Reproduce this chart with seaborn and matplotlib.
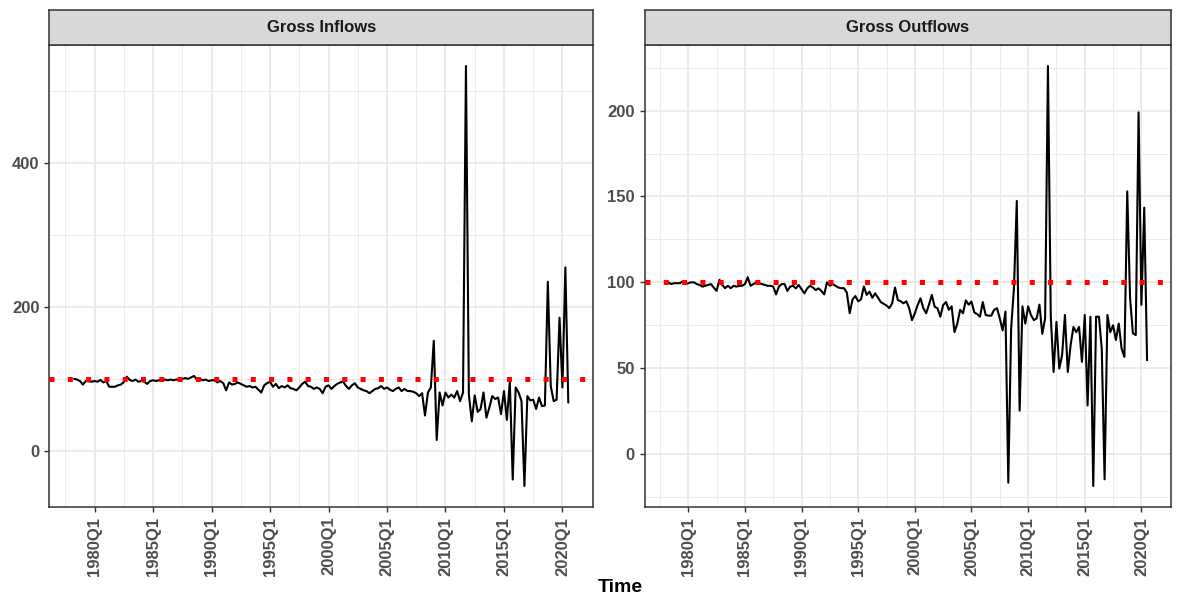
import numpy as np
import pandas as pd
import matplotlib
matplotlib.use("Agg")
import matplotlib.pyplot as plt
import seaborn as sns
from matplotlib.ticker import FixedLocator

# ---------------- data ----------------
quarters = pd.period_range("1978Q1", "2020Q2", freq="Q")

inflows = [
    100, 99, 97, 92,        # 1978
    97, 96.5, 96, 97,       # 1979
    96, 98.5, 95, 97,       # 1980
    89, 89, 89, 91,         # 1981
    92, 95.5, 103, 98.5,    # 1982
    97, 99, 96, 97,         # 1983
    96, 93, 97, 98,         # 1984
    97, 98, 98, 99,         # 1985
    98, 99, 98, 99,         # 1986
    99, 100, 101, 100,      # 1987
    102, 104, 99, 100,      # 1988
    98, 99, 97, 98,         # 1989
    98, 95, 97, 94,         # 1990
    84, 95, 92, 93,         # 1991
    95, 93, 91, 89,         # 1992
    90, 88, 89, 85,         # 1993
    81, 91, 94, 96,         # 1994
    89, 93, 87, 90,         # 1995
    88, 91, 87, 86,         # 1996
    84, 88, 93, 96,         # 1997
    90, 89, 86, 88,         # 1998
    86, 80, 89, 91,         # 1999
    86, 90, 93, 95,         # 2000
    96, 90, 86, 91,         # 2001
    94, 88, 86, 84,         # 2002
    83, 80, 83, 86,         # 2003
    87, 90, 86, 88,         # 2004
    85, 83, 86, 88,         # 2005
    83, 86, 83, 83,         # 2006
    82, 80, 76, 80,         # 2007
    49, 81, 88, 153,        # 2008
    15, 81, 63, 81,         # 2009
    74, 78, 74, 83,         # 2010
    69, 81, 535, 78,        # 2011
    41, 77, 54, 58,         # 2012
    81, 46, 60, 76,         # 2013
    72, 74, 51, 83,         # 2014
    43, 96, -40, 88,        # 2015
    81, 69, -49, 76,        # 2016
    70, 71, 58, 74,         # 2017
    62, 63, 235, 90,        # 2018
    69, 71, 185, 88,        # 2019
    255, 67,                # 2020
]

outflows = [
    100, 99, 99.5, 99.5,        # 1978
    99.5, 100.5, 99, 99.5,      # 1979
    100, 100, 99, 98.5,         # 1980
    97.5, 98, 98.5, 99,         # 1981
    97, 95, 101.5, 98.5,        # 1982
    96.6, 98, 96.6, 98,         # 1983
    97.5, 98, 98, 99,           # 1984
    103, 98, 99, 100,           # 1985
    99.5, 99, 98.5, 98,         # 1986
    98, 97.5, 93, 97.5,         # 1987
    99, 99, 95, 97.5,           # 1988
    98, 96.5, 98.5, 96,         # 1989
    93.6, 96.5, 98, 97,         # 1990
    95.5, 96.5, 95, 93,         # 1991
    100, 98, 99, 98,            # 1992
    97, 96.6, 96.6, 94,         # 1993
    82, 90, 92, 89,             # 1994
    90, 97.6, 92.7, 94.6,       # 1995
    91, 93.6, 91, 88.5,         # 1996
    87.5, 86.5, 85, 87.8,       # 1997
    97, 89.7, 89, 87.8,         # 1998
    89, 85, 78, 82,             # 1999
    86.8, 90.7, 85, 82,         # 2000
    87, 92.7, 85.8, 84.9,       # 2001
    80, 86.8, 88.5, 84,         # 2002
    86, 71, 76, 84,             # 2003
    82, 89.5, 87, 88.8,         # 2004
    82.5, 81.5, 80, 88.5,       # 2005
    81, 80.6, 80.6, 84,         # 2006
    85, 79, 72, 83,             # 2007
    -16.7, 73, 96.6, 147.4,     # 2008
    25.3, 86, 76, 86,           # 2009
    81, 78, 79, 87,             # 2010
    70, 79, 226, 80,            # 2011
    47.8, 77, 49.8, 57.6,       # 2012
    81, 47.8, 63.4, 74,         # 2013
    71, 74, 53.7, 81,           # 2014
    28.3, 80, -18.6, 80,        # 2015
    80, 61.5, -14.7, 81,        # 2016
    71, 75, 66.4, 76,           # 2017
    61.5, 56.6, 153, 90.8,      # 2018
    70.3, 69.3, 199, 86.9,      # 2019
    143.5, 54.6,                # 2020
]

panel_titles = ["Gross Inflows", "Gross Outflows"]
x_tick_values = [1980, 1985, 1990, 1995, 2000, 2005, 2010, 2015, 2020]
x_tick_labels = ["1980Q1", "1985Q1", "1990Q1", "1995Q1", "2000Q1",
                 "2005Q1", "2010Q1", "2015Q1", "2020Q1"]
x_minor_values = [1977.5, 1982.5, 1987.5, 1992.5, 1997.5, 2002.5,
                  2007.5, 2012.5, 2017.5, 2022.5]
inflow_yticks = [0, 200, 400]
inflow_yminor = [-100, 100, 300, 500]
outflow_yticks = [0, 50, 100, 150, 200]
outflow_yminor = [-25, 25, 75, 125, 175, 225]
reference_level = 100

# observations are stamped at the end of each quarter
t = (quarters.year + quarters.quarter / 4).to_numpy(dtype=float)
df = pd.DataFrame({
    "Time": np.concatenate([t, t]),
    "value": np.array(inflows + outflows, dtype=float),
    "panel": [panel_titles[0]] * len(t) + [panel_titles[1]] * len(t),
})

# ---------------- style ----------------
sns.set_theme(style="white")
plt.rcParams["font.family"] = ["Liberation Sans", "DejaVu Sans"]

W, H = 1179, 597
fig = plt.figure(figsize=(W / 100, H / 100), dpi=100)

panel_bottom = 1 - 507 / H
panel_top = 1 - 45 / H
strip_top = 1 - 10 / H
panels = [
    (49.4 / W, (593 - 49.4) / W, inflow_yticks, inflow_yminor),
    (644.5 / W, (1171 - 644.5) / W, outflow_yticks, outflow_yminor),
]

border_col = "#333333"
grid_col = "#EBEBEB"
text_col = "#4D4D4D"

for (left, width, yt, ymin_), title in zip(panels, panel_titles):
    ax = fig.add_axes([left, panel_bottom, width, panel_top - panel_bottom])
    sub = df[df["panel"] == title]
    sns.lineplot(data=sub, x="Time", y="value", ax=ax, color="black",
                 linewidth=1.5, zorder=3)
    ax.axhline(reference_level, color="red", linewidth=3.6,
               linestyle=(0, (1, 2.66)), dash_capstyle="butt", zorder=4)

    x0, x1 = sub["Time"].min(), sub["Time"].max()
    y0, y1 = sub["value"].min(), sub["value"].max()
    ax.set_xlim(x0 - 0.05 * (x1 - x0), x1 + 0.05 * (x1 - x0))
    ax.set_ylim(y0 - 0.05 * (y1 - y0), y1 + 0.05 * (y1 - y0))

    ax.xaxis.set_major_locator(FixedLocator(x_tick_values))
    ax.xaxis.set_minor_locator(FixedLocator(x_minor_values))
    ax.set_xticklabels(x_tick_labels)
    ax.yaxis.set_major_locator(FixedLocator(yt))
    ax.yaxis.set_minor_locator(FixedLocator(ymin_))

    ax.grid(which="major", color=grid_col, linewidth=1.4, zorder=0)
    ax.grid(which="minor", color=grid_col, linewidth=0.7, zorder=0)
    ax.set_axisbelow(True)
    ax.set_facecolor("white")
    for s in ax.spines.values():
        s.set_color(border_col)
        s.set_linewidth(1.1)
        s.set_visible(True)

    ax.tick_params(axis="both", which="major", length=3.5, width=1.0,
                   color=border_col, labelcolor=text_col, labelsize=12,
                   pad=3.5, bottom=True, left=True)
    ax.tick_params(axis="both", which="minor", length=0)
    for lab in ax.get_xticklabels():
        lab.set_rotation(90)
        lab.set_fontweight("bold")
    for lab in ax.get_yticklabels():
        lab.set_fontweight("bold")
    ax.set_xlabel("")
    ax.set_ylabel("")

    # facet strip
    sax = fig.add_axes([left, panel_top, width, strip_top - panel_top])
    sax.set_facecolor("#D9D9D9")
    sax.set_xticks([])
    sax.set_yticks([])
    for s in sax.spines.values():
        s.set_color(border_col)
        s.set_linewidth(1.1)
    sax.text(0.5, 0.5, title, ha="center", va="center", fontsize=12,
             fontweight="bold", color="#1A1A1A", transform=sax.transAxes)

fig.text(620 / W, 1 - 588 / H, "Time", ha="center", va="center",
         fontsize=14, fontweight="bold", color="black")

fig.savefig("out.png", dpi=100)
